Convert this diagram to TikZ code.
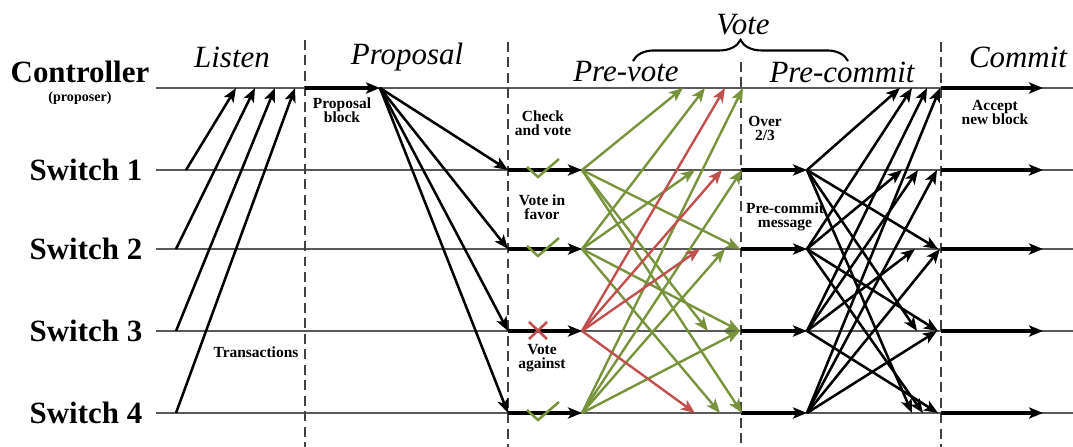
\documentclass[tikz,border=0pt]{standalone}
\usepackage{fontspec}
\setmainfont{Liberation Serif}
\usetikzlibrary{arrows.meta, positioning, calc, decorations.pathreplacing}
\definecolor{favorgreen}{RGB}{119,147,60}
\definecolor{againstred}{RGB}{192,80,77}

\begin{document}
\begin{tikzpicture}[
    x=0.025cm, y=-0.025cm,
    rowlabel/.style={font=\bfseries\fontsize{22}{22}\selectfont, inner sep=0pt},
    phase/.style={font=\itshape\fontsize{22}{22}\selectfont, inner sep=0pt},
    note/.style={align=center, font=\bfseries\fontsize{11}{10}\selectfont, inner sep=0pt},
    rowline/.style={draw=black!65, line width=1.2pt},
    divider/.style={draw=black!75, line width=1pt, dash pattern=on 7pt off 4pt},
    arrow/.style={-{Stealth[length=10pt, width=8pt, inset=2.5pt]}, line width=1.8pt},
    bigarrow/.style={arrow, line width=2.4pt},
    favor/.style={arrow, draw=favorgreen, line width=1.7pt},
    against/.style={arrow, draw=againstred, line width=1.7pt},
    votemark/.style={line width=1.8pt}
]
    \useasboundingbox (0,0) rectangle (1073,447);

    % rows
    \node[rowlabel] (ctrl) at (80,72) {Controller};
    \node[font=\bfseries\fontsize{10}{10}\selectfont, inner sep=0pt] (proposer) at (80,98) {(proposer)};
    \node[rowlabel] (sw1) at (86,170) {Switch 1};
    \node[rowlabel] (sw2) at (86,249) {Switch 2};
    \node[rowlabel] (sw3) at (86,331) {Switch 3};
    \node[rowlabel] (sw4) at (86,413) {Switch 4};

    \coordinate (r0) at (156,88);
    \coordinate (r1) at (156,170);
    \coordinate (r2) at (156,249);
    \coordinate (r3) at (156,331);
    \coordinate (r4) at (156,413);
    \foreach \i in {0,...,4}
        \draw[rowline] (r\i) -- ++(917,0);

    % phases
    \coordinate (d1) at (305,40);
    \coordinate (d2) at (508,42);
    \coordinate (d3) at (741,62);
    \coordinate (d4) at (941,42);
    \foreach \d in {d1,d2,d3,d4}
        \draw[divider] (\d) -- (\d |- 0,447);

    \node[phase] (listen) at (232,57) {Listen};
    \node[phase] (proposal) at (407,57) {Proposal};
    \node[phase] (prevote) at (626,72) {Pre-vote};
    \node[phase] (precommit) at (842,72) {Pre-commit};
    \node[phase] (commit) at (1018,57) {Commit};
    \node[phase] (vote) at (743,25) {Vote};
    \draw[line width=1.5pt, decorate, decoration={brace, amplitude=15pt}] (633,61) -- (848,61);

    % listen
    \coordinate (tx1) at (186,170);
    \coordinate (tx2) at (176,249);
    \coordinate (tx3) at (176,331);
    \coordinate (tx4) at (176,413);
    \foreach \i/\x in {1/236, 2/255, 3/275, 4/295} {
        \coordinate (ls\i) at (\x,88);
        \draw[arrow] (tx\i) -- (ls\i);
    }
    \node[note] (transactions) at (256,352) {Transactions};

    % proposal
    \coordinate (pstart) at (305,88);
    \coordinate (pb) at (380,88);
    \draw[bigarrow] (pstart) -- (pb);
    \foreach \i in {1,...,4}
        \draw[arrow] (pb) -- (d2 |- r\i);
    \node[note] (block) at (342,110) {Proposal\\block};

    % pre-vote
    \foreach \i in {1,...,4} {
        \coordinate (pv\i) at (582,0 |- r\i);
        \coordinate (pc\i) at (807,0 |- r\i);
        \draw[bigarrow] (d2 |- r\i) -- (pv\i);
        \draw[bigarrow] (d3 |- r\i) -- (pc\i);
    }
    \foreach \s/\t/\x in {1/0/683, 1/2/740, 1/3/708, 1/4/742,
                          2/0/705, 2/1/695, 2/3/740, 2/4/720,
                          4/0/743, 4/1/742, 4/2/725, 4/3/740} {
        \coordinate (pv\s-\t) at (\x,0 |- r\t);
        \draw[favor] (pv\s) -- (pv\s-\t);
    }
    \foreach \t/\x in {0/725, 1/722, 2/700, 4/695} {
        \coordinate (pv3-\t) at (\x,0 |- r\t);
        \draw[against] (pv3) -- (pv3-\t);
    }
    \foreach \i in {1,2,4}
        \draw[votemark, favorgreen] ($(d2 |- r\i)+(19,-3)$) -- ++(11,10) -- ++(21,-18);
    \draw[votemark, againstred] ($(d2 |- r3)+(21,-9)$) -- ++(18,17) ++(0,-17) -- ++(-18,17);
    \node[note] (check) at (543,123) {Check\\and vote};
    \node[note] (infavor) at (542,207) {Vote in\\favor};
    \node[note] (against) at (542,358) {Vote\\against};

    % pre-commit
    \foreach \s/\t/\x in {1/0/900, 1/2/938, 1/3/917, 1/4/912,
                          2/0/912, 2/1/902, 2/3/938, 2/4/923,
                          3/0/927, 3/1/918, 3/2/915, 3/4/938,
                          4/0/940, 4/1/937, 4/2/940, 4/3/937} {
        \coordinate (pc\s-\t) at (\x,0 |- r\t);
        \draw[arrow] (pc\s) -- (pc\s-\t);
    }
    \node[note] (over) at (765,128) {Over\\2/3};
    \node[note] (message) at (785,217) {Pre-commit\\message};

    % commit
    \foreach \i in {0,...,4} {
        \coordinate (cm\i) at (1043,0 |- r\i);
        \draw[bigarrow] (d4 |- r\i) -- (cm\i);
    }
    \node[note] (accept) at (995,112) {Accept\\new block};
\end{tikzpicture}
\end{document}
